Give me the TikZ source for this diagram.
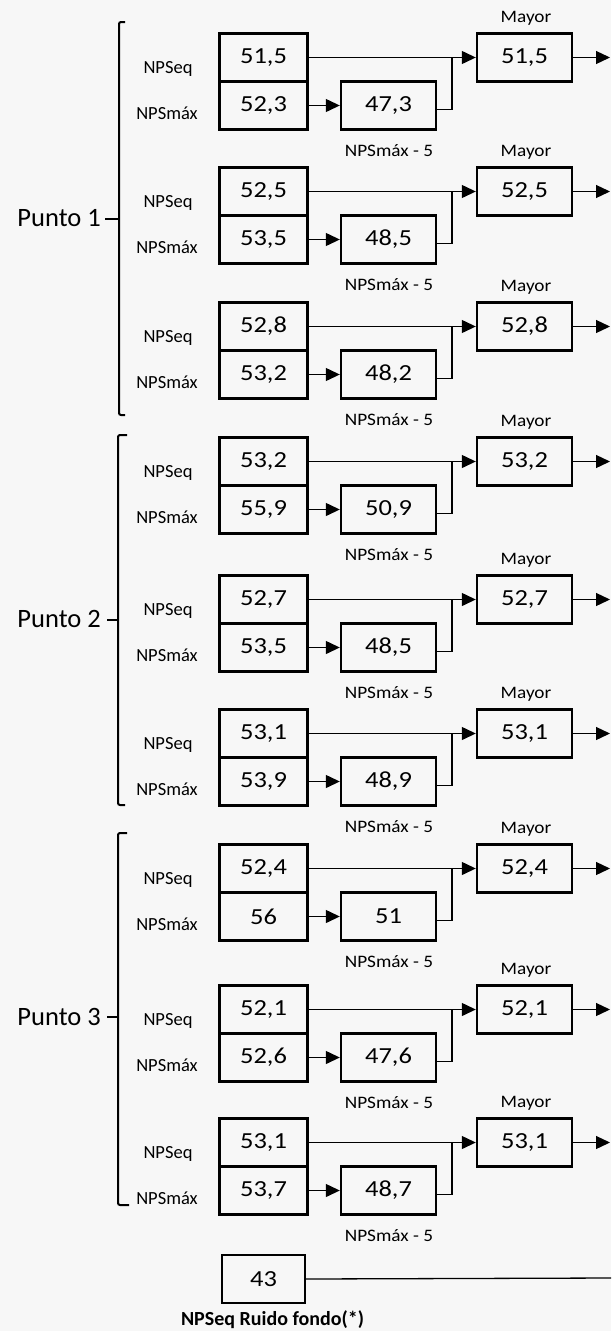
\documentclass[tikz,border=0pt]{standalone}
\usepackage{fontspec}
\setmainfont{Carlito}
\newfontfamily\numfont{Carlito}[FakeStretch=1.15]
\newfontfamily\lblfont{Carlito}[FakeStretch=1.1]
\usetikzlibrary{arrows.meta,calc}
\tikzset{
  valbox/.style={draw, line width=2.4pt, inner sep=0pt, minimum height=48pt,
    font=\numfont\fontsize{23}{25}\selectfont},
  smallbox/.style={valbox, minimum width=88pt},
  bigbox/.style={valbox, minimum width=95pt},
  conn/.style={line width=1.3pt},
  arr/.style={conn, -{Triangle[length=14pt,width=13pt]}},
  sidelbl/.style={anchor=base, inner sep=0pt, font=\fontsize{18.5}{20}\selectfont},
  sublbl/.style={anchor=base, inner sep=0pt, font=\lblfont\fontsize{17.5}{19}\selectfont},
  brk/.style={line width=2pt, rounded corners=2pt},
  punto/.style={anchor=east, inner sep=0pt, font=\fontsize{26.5}{28}\selectfont}
}
\begin{document}
\begin{tikzpicture}[x=1pt,y=-1pt]
\useasboundingbox[fill=black!3] (0,0) rectangle (611,1331);
\foreach \i/\T/\a/\b/\c/\d in {
  1/33/{51,5}/{52,3}/{47,3}/{51,5},
  2/167/{52,5}/{53,5}/{48,5}/{52,5},
  3/302/{52,8}/{53,2}/{48,2}/{52,8},
  4/437/{53,2}/{55,9}/{50,9}/{53,2},
  5/575/{52,7}/{53,5}/{48,5}/{52,7},
  6/709/{53,1}/{53,9}/{48,9}/{53,1},
  7/844/{52,4}/{56}/{51}/{52,4},
  8/985/{52,1}/{52,6}/{47,6}/{52,1},
  9/1118/{53,1}/{53,7}/{48,7}/{53,1}}{
  \node[smallbox] (u\i) at (263.5,\T+24.5) {\a};
  \node[smallbox] (l\i) at (263.5,\T+72.5) {\b};
  \node[bigbox] (m\i) at (388.5,\T+72.5) {\c};
  \node[bigbox] (y\i) at (524.5,\T+24.5) {\d};
  \node[sidelbl] (s\i) at (168,\T+40) {NPSeq};
  \node[sidelbl] (t\i) at (167,\T+86) {NPSmáx};
  \node[sublbl] (n\i) at (389,\T+123) {NPSmáx - 5};
  \node[sublbl] (k\i) at (526,\T-11) {Mayor};
  \coordinate (j\i) at (452,\T+24.5);
  \coordinate (o\i) at (610,\T+24.5);
  \draw[arr] (u\i.east) -- (y\i.west);
  \draw[arr] (l\i.east) -- (m\i.west);
  \draw[conn] ([yshift=-4pt]m\i.east) -| (j\i);
  \draw[arr] (y\i.east) -- (o\i);
}
% brackets
\draw[brk] (125,22) -- (119,22) -- (119,415) -- (125,415);
\draw[brk] (119,219) -- (105,219);
\node[punto] (p1) at (101,218) {Punto 1};
\draw[brk] (127,435) -- (118,435) -- (118,805) -- (125,805);
\draw[brk] (118,620) -- (107,620);
\node[punto] (p2) at (101,619) {Punto 2};
\draw[brk] (127,833) -- (118,833) -- (118,1205) -- (129,1205);
\draw[brk] (118,1017) -- (107,1017);
\node[punto] (p3) at (101,1017) {Punto 3};
% background noise
\node[valbox, minimum width=83pt] (r) at (263.5,1279) {43};
\coordinate (re) at (611,1278);
\draw[conn] (r.east) -- (re);
\node[anchor=base, inner sep=0pt, font=\bfseries\fontsize{20}{22}\selectfont] (rl) at (272.5,1325) {NPSeq Ruido fondo(*)};
\end{tikzpicture}
\end{document}
